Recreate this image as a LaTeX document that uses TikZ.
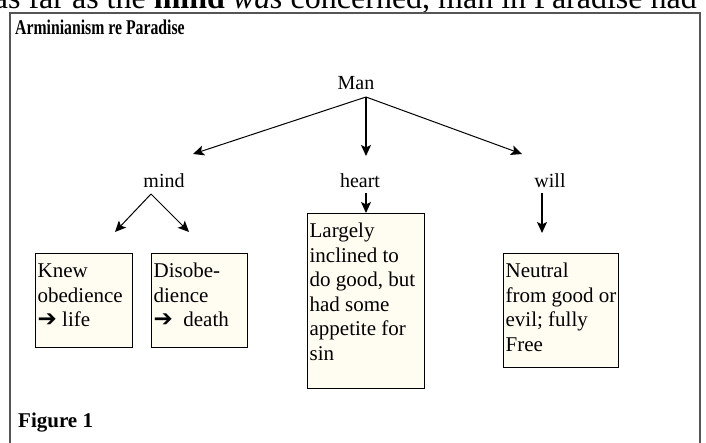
\documentclass[tikz,border=0pt]{standalone}
\usepackage{fontspec}
\setmainfont{Liberation Serif}
\newfontfamily\symfont{DejaVu Sans}
\usetikzlibrary{arrows.meta}

\definecolor{boxfill}{RGB}{255,252,242}
\definecolor{framegray}{RGB}{85,85,85}

% top-aligned text block of fixed size inside a box
\newcommand\cellblock[3]{\parbox[c][#2][t]{#1}{\raggedright\fontsize{21}{24.5}\selectfont\rule{0pt}{22pt}#3}}
\newcommand\thickarrow{{\symfont\fontsize{23}{17}\selectfont ➔}}

\begin{document}
\begin{tikzpicture}[x=1pt,y=-1pt,
  cellbox/.style={draw=black, line width=1.3pt, fill=boxfill, inner sep=2pt, anchor=north west},
  lbl/.style={font=\fontsize{20}{24}\selectfont, inner sep=0pt, anchor=base},
  arr/.style={-{Stealth[length=11pt,width=10pt,inset=2.5pt]}, line width=1pt},
]
\useasboundingbox (0,0) rectangle (706,443);
\clip (0,0) rectangle (706,443);

% running text above the figure frame
\node[anchor=base east, inner sep=0pt, font=\fontsize{32}{32}\selectfont] (runtext) at (697,8.5)
  {as far as the \textbf{mind} \textit{was} concerned, man in Paradise had};

% figure frame
\draw[framegray, line width=2.2pt] (10,470) -- (10,13) -- (700,13) -- (700,470);

% title and caption
\node[anchor=base west, inner sep=0pt] (title) at (15,35)
  {\scalebox{0.75}[1]{\fontsize{21}{21}\selectfont\bfseries Arminianism re Paradise}};
\node[anchor=base west, inner sep=0pt, font=\fontsize{21}{21}\selectfont\bfseries] (caption) at (18,427) {Figure 1};

% tree labels
\node[lbl] (man) at (356,90) {Man};
\node[lbl] (mind) at (164,188) {mind};
\node[lbl] (heart) at (360,188) {heart};
\node[lbl] (will) at (550,188) {will};

% boxes
\node[cellbox] (obey) at (35,253) {\cellblock{93pt}{90pt}{Knew\\obedience\\\thickarrow\ life}};
\node[cellbox] (disobey) at (151,253) {\cellblock{92pt}{90pt}{Disobe-\\dience\\\thickarrow\ \ death}};
\node[cellbox] (heartbox) at (307,213) {\cellblock{113pt}{171pt}{Largely\\inclined to\\do good, but\\had some\\appetite for\\sin}};
\node[cellbox] (willbox) at (503,253) {\cellblock{111pt}{110pt}{Neutral\\from good or\\evil; fully\\Free}};

% connector end points
\coordinate (manroot) at (366,97);
\coordinate (mindtip) at (193,154);
\coordinate (hearttip) at (366,156);
\coordinate (willtip) at (522,154);
\coordinate (mindroot) at (151,194);
\coordinate (obeytip) at (115,232);
\coordinate (disobeytip) at (189,232);
\coordinate (heartroot) at (366,193);
\coordinate (willroot) at (542,193);
\coordinate (willboxtip) at (542,233);

% connectors
\draw[arr] (manroot) -- (mindtip);
\draw[arr, line width=1.3pt] (manroot) -- (hearttip);
\draw[arr] (manroot) -- (willtip);
\draw[arr] (mindroot) -- (obeytip);
\draw[arr] (mindroot) -- (disobeytip);
\draw[arr, line width=1.3pt] (heartroot) -- (heartroot |- heartbox.north);
\draw[arr, line width=1.3pt] (willroot) -- (willboxtip);
\end{tikzpicture}
\end{document}
